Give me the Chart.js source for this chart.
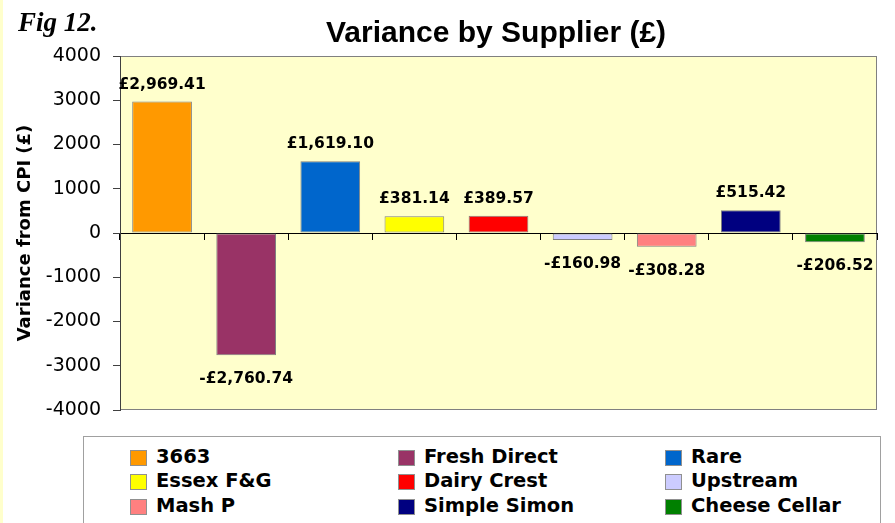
<!DOCTYPE html>
<html>
<head>
<meta charset="utf-8">
<script src="https://cdn.jsdelivr.net/npm/chart.js@4/dist/chart.umd.min.js"></script>
<style>
  html, body { margin: 0; padding: 0; background: #fff; }
  #wrap { position: relative; width: 895px; height: 523px; overflow: hidden; }
  #strip { position: absolute; left: 0; top: 0; width: 3px; height: 523px; background: #ffffcc; }
  #fig { position: absolute; left: 18px; top: 7px; font: italic bold 27px "Liberation Serif", serif; color: #000; }
  #title { position: absolute; left: 0; width: 992px; top: 15px; text-align: center; font: bold 30px "Liberation Sans", Arial, sans-serif; color: #000; }
  #legend { position: absolute; left: 83px; top: 436px; width: 796px; height: 120px; border: 1px solid #a0a0a0; background: #fff; }
  .item { position: absolute; height: 24px; font: bold 19.5px "DejaVu Sans", sans-serif; color: #000; line-height: 24px; white-space: nowrap; }
  .swatch { position: absolute; left: 0; top: 4px; width: 15px; height: 14px; border: 1px solid #909090; }
  .item span { position: absolute; left: 26px; top: -1px; }
</style>
</head>
<body>
<div id="wrap">
  <canvas id="chart" width="895" height="523"></canvas>
  <div id="strip"></div>
  <div id="fig">Fig 12.</div>
  <div id="title">Variance by Supplier (£)</div>
  <div id="legend"></div>
</div>
<script>
const suppliers = ["3663", "Fresh Direct", "Rare", "Essex F&G", "Dairy Crest", "Upstream", "Mash P", "Simple Simon", "Cheese Cellar"];
const variance = [2969.41, -2760.74, 1619.10, 381.14, 389.57, -160.98, -308.28, 515.42, -206.52];
const barColors = ["#ff9900", "#993366", "#0066cc", "#ffff00", "#ff0000", "#ccccff", "#ff8080", "#000080", "#008000"];
const yMin = -4000;
const yMax = 4000;
const yStep = 1000;

function formatPounds(value) {
  const text = new Intl.NumberFormat("en-GB", {
    minimumFractionDigits: 2,
    maximumFractionDigits: 2,
  }).format(Math.abs(value));
  return (value < 0 ? "-" : "") + "£" + text;
}

// plot background + grey frame
const plotFrame = {
  id: "plotFrame",
  beforeDraw(chart) {
    const { ctx, chartArea: a } = chart;
    ctx.save();
    ctx.fillStyle = "#ffffcc";
    ctx.fillRect(a.left, a.top, a.right - a.left, a.bottom - a.top);
    ctx.strokeStyle = "#808080";
    ctx.lineWidth = 1;
    ctx.strokeRect(a.left + 0.5, a.top + 0.5, a.right - a.left - 1, a.bottom - a.top - 1);
    ctx.restore();
  },
};

// value labels above / below each bar
const valueLabels = {
  id: "valueLabels",
  afterDatasetsDraw(chart) {
    const { ctx } = chart;
    const meta = chart.getDatasetMeta(0);
    ctx.save();
    ctx.font = 'bold 15.5px "DejaVu Sans"';
    ctx.fillStyle = "#000";
    ctx.textAlign = "center";
    ctx.textBaseline = "middle";
    meta.data.forEach((bar, i) => {
      const v = variance[i];
      const y = v >= 0 ? bar.y - 17 : bar.y + 24;
      ctx.fillText(formatPounds(v), bar.x, y);
    });
    ctx.restore();
  },
};

new Chart(document.getElementById("chart"), {
  type: "bar",
  data: {
    labels: suppliers,
    datasets: [
      {
        data: variance,
        backgroundColor: barColors,
        borderColor: "#808080",
        borderWidth: 1,
        borderSkipped: false,
        categoryPercentage: 1,
        barPercentage: 0.71,
      },
    ],
  },
  options: {
    responsive: false,
    animation: false,
    layout: { padding: { left: 0, top: 56, right: 18, bottom: 113 } },
    plugins: {
      legend: { display: false },
      tooltip: { enabled: false },
    },
    scales: {
      x: {
        position: { y: 0 },
        offset: true,
        grid: { offset: true, drawOnChartArea: false, tickLength: 6, color: "#000" },
        border: { color: "#000", width: 1 },
        ticks: { display: false },
      },
      y: {
        min: yMin,
        max: yMax,
        ticks: {
          stepSize: yStep,
          color: "#000",
          padding: 12,
          font: { family: "DejaVu Sans", size: 19 },
          callback: (value) => String(value),
        },
        grid: { drawOnChartArea: false, tickLength: 7, color: "#404040" },
        border: { color: "#404040", width: 1 },
        title: {
          display: true,
          text: "Variance from CPI (£)",
          color: "#000",
          font: { family: "DejaVu Sans", size: 18, weight: "bold" },
          padding: { top: 15, bottom: 0 },
        },
        afterFit(scale) {
          scale.width = 120;
        },
      },
    },
  },
  plugins: [plotFrame, valueLabels],
});

// legend: 3 columns, row-major
const legendCols = [46, 314, 581];
const legendRows = [9, 33, 58];
const legend = document.getElementById("legend");
suppliers.forEach((name, i) => {
  const item = document.createElement("div");
  item.className = "item";
  item.style.left = legendCols[i % 3] + "px";
  item.style.top = legendRows[Math.floor(i / 3)] + "px";
  item.innerHTML = `<div class="swatch" style="background:${barColors[i]}"></div><span></span>`;
  item.querySelector("span").textContent = name;
  legend.appendChild(item);
});
</script>
</body>
</html>
